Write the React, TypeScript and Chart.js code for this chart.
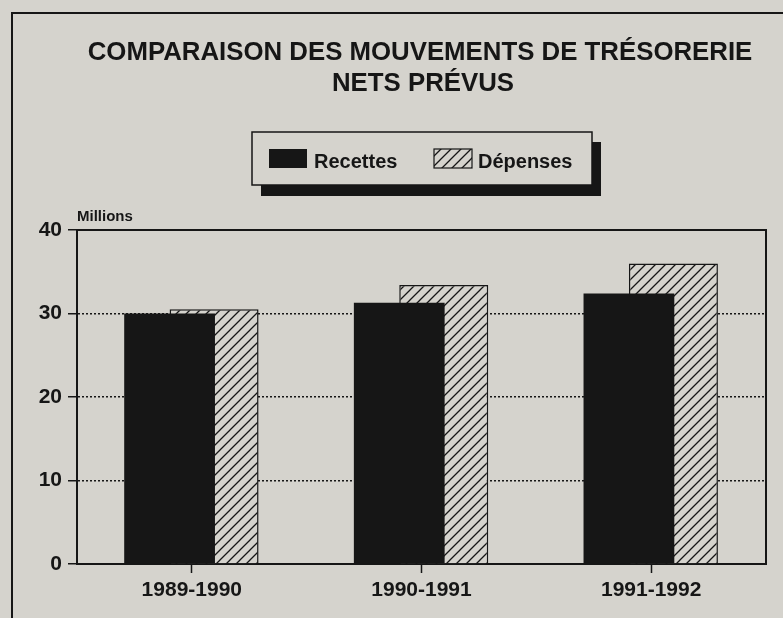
import React, { useEffect, useRef } from 'react';
import { Chart, registerables } from 'chart.js';

Chart.register(...registerables);

const categories = ['1989-1990', '1990-1991', '1991-1992'];
const recettes = [30.0, 31.3, 32.4];
const depenses = [30.5, 33.4, 36.0];
const yTickValues = [0, 10, 20, 30, 40];
const titleLines = ['COMPARAISON DES MOUVEMENTS DE TRÉSORERIE', 'NETS PRÉVUS'];
const seriesNames = ['Recettes', 'Dépenses'];
const unitLabel = 'Millions';

const W = 783;
const H = 618;
const BG = '#d5d3cd';
const INK = '#161616';
const FONT = '"Liberation Sans", Arial, Helvetica, sans-serif';

function makeHatch(ctx: CanvasRenderingContext2D) {
  const s = 10;
  const pc = document.createElement('canvas');
  pc.width = s;
  pc.height = s;
  const p = pc.getContext('2d')!;
  p.fillStyle = BG;
  p.fillRect(0, 0, s, s);
  p.strokeStyle = INK;
  p.lineWidth = 1.3;
  p.beginPath();
  p.moveTo(-1, s + 1);
  p.lineTo(s + 1, -1);
  p.moveTo(-1, 1);
  p.lineTo(1, -1);
  p.moveTo(s - 1, s + 1);
  p.lineTo(s + 1, s - 1);
  p.stroke();
  return ctx.createPattern(pc, 'repeat')!;
}

export default function App() {
  const ref = useRef<HTMLCanvasElement | null>(null);

  useEffect(() => {
    const canvas = ref.current!;
    const ctx = canvas.getContext('2d')!;
    const hatch = makeHatch(ctx);

    const decor = {
      id: 'decor',
      beforeDraw(chart: any) {
        const c = chart.ctx as CanvasRenderingContext2D;
        c.save();
        c.fillStyle = BG;
        c.fillRect(0, 0, W, H);
        // outer frame (top and left)
        c.strokeStyle = INK;
        c.lineWidth = 2;
        c.beginPath();
        c.moveTo(12, H + 2);
        c.lineTo(12, 13);
        c.lineTo(W + 2, 13);
        c.stroke();
        // title
        c.fillStyle = INK;
        c.font = `bold 25.8px ${FONT}`;
        c.textAlign = 'center';
        c.textBaseline = 'alphabetic';
        c.fillText(titleLines[0], 420, 60);
        c.fillText(titleLines[1], 423, 91);
        // legend box with shadow
        c.fillStyle = INK;
        c.fillRect(261, 142, 340, 54);
        c.fillStyle = BG;
        c.fillRect(252, 132, 340, 53);
        c.lineWidth = 1.5;
        c.strokeStyle = INK;
        c.strokeRect(252, 132, 340, 53);
        // legend items
        const ds = chart.data.datasets;
        c.fillStyle = ds[0].backgroundColor;
        c.fillRect(269, 149, 38, 19);
        c.fillStyle = ds[1].backgroundColor;
        c.fillRect(434, 149, 38, 19);
        c.lineWidth = 1.2;
        c.strokeRect(434, 149, 38, 19);
        c.fillStyle = INK;
        c.font = `bold 20px ${FONT}`;
        c.textAlign = 'left';
        c.fillText(ds[0].label, 314, 168);
        c.fillText(ds[1].label, 478, 168);
        // unit label
        c.font = `bold 15px ${FONT}`;
        c.fillText(unitLabel, 77, 221);
        c.restore();
      },
      afterDatasetsDraw(chart: any) {
        const { top, right, left, bottom } = chart.chartArea;
        const c = chart.ctx as CanvasRenderingContext2D;
        c.save();
        c.strokeStyle = INK;
        c.lineWidth = 2;
        c.beginPath();
        c.moveTo(left, top);
        c.lineTo(right, top);
        c.lineTo(right, bottom);
        c.stroke();
        c.restore();
      },
    };

    const tickFont = { family: FONT, size: 21, weight: 'bold' as const };

    const chart = new Chart(ctx, {
      type: 'bar',
      data: {
        labels: categories,
        datasets: [
          {
            label: seriesNames[0],
            data: recettes,
            backgroundColor: INK,
            borderWidth: 0,
            categoryPercentage: 0.3875,
            barPercentage: 2.04,
          },
          {
            label: seriesNames[1],
            data: depenses,
            backgroundColor: hatch as any,
            borderColor: INK,
            borderWidth: 1.5,
            categoryPercentage: 0.3875,
            barPercentage: 2.0,
          },
        ],
      },
      options: {
        animation: false,
        responsive: false,
        devicePixelRatio: 1,
        layout: { padding: { top: 230, right: 17, left: 0, bottom: 0 } },
        plugins: {
          legend: { display: false },
          title: { display: false },
          tooltip: { enabled: false },
        },
        scales: {
          x: {
            offset: true,
            grid: {
              offset: false,
              drawOnChartArea: false,
              drawTicks: true,
              tickLength: 9,
              tickWidth: 1.5,
              tickColor: INK,
            },
            border: { display: true, width: 2, color: INK },
            ticks: {
              font: tickFont,
              color: INK,
              padding: 5,
              maxRotation: 0,
              autoSkip: false,
            },
            afterFit: (s: any) => {
              s.height = 54;
            },
          },
          y: {
            min: 0,
            max: 40,
            afterBuildTicks: (s: any) => {
              s.ticks = yTickValues.map((v) => ({ value: v }));
            },
            ticks: {
              font: tickFont,
              color: INK,
              padding: 6,
            },
            grid: {
              color: (c: any) =>
                c.tick && c.tick.value > 0 && c.tick.value < 40 ? INK : 'rgba(0,0,0,0)',
              lineWidth: 1.5,
              drawTicks: true,
              tickLength: 9,
              tickWidth: 1.5,
              tickColor: INK,
            },
            border: { display: true, width: 2, color: INK, dash: [2, 2] },
            afterFit: (s: any) => {
              s.width = 77;
            },
          },
        },
      },
      plugins: [decor],
    });

    return () => chart.destroy();
  }, []);

  return (
    <div style={{ position: 'absolute', left: 0, top: 0, width: W, height: H, background: BG }}>
      <canvas ref={ref} width={W} height={H} style={{ display: 'block', width: W, height: H }} />
    </div>
  );
}
